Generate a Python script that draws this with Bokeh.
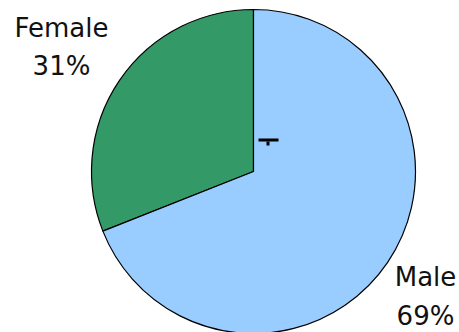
import math
from bokeh.plotting import figure
from bokeh.models import ColumnDataSource, Range1d
from bokeh.core.properties import value
from bokeh.embed import file_html
from bokeh.resources import INLINE

# Gender split
categories = ["Female", "Male"]
shares = [31, 69]
colors = ["#339966", "#99CCFF"]

W, H = 459, 332
cx, cy, r = 253, H - 171, 162

# Wedges start at 12 o'clock and run anticlockwise
total = sum(shares)
starts, ends = [], []
acc = 0.0
for s in shares:
    a0 = math.pi / 2 + 2 * math.pi * acc / total
    acc += s
    a1 = math.pi / 2 + 2 * math.pi * acc / total
    starts.append(a0)
    ends.append(a1)

src = ColumnDataSource(dict(cat=categories, share=shares, color=colors,
                            start=starts, end=ends))

p = figure(width=W, height=H, output_backend="svg", toolbar_location=None,
           x_range=Range1d(0, W), y_range=Range1d(0, H),
           min_border=0)
p.axis.visible = False
p.grid.visible = False
p.outline_line_color = None
p.background_fill_color = "white"
p.border_fill_color = "white"

p.wedge(x=cx, y=cy, radius=r, start_angle="start", end_angle="end",
        fill_color="color", line_color="black", line_width=1.2, source=src)

# Small tick mark near the centre
p.quad(left=[cx + 5], right=[cx + 25], bottom=[H - 141], top=[H - 138],
       fill_color="black", line_color=None)
p.quad(left=[cx + 13], right=[cx + 16], bottom=[H - 145], top=[H - 141],
       fill_color="black", line_color=None)

# Category name above its percentage
lab = ColumnDataSource(dict(
    x=[61, 425],
    y_name=[H - 27, H - 276],
    y_pct=[H - 65, H - 315],
    name=categories,
    pct=[f"{s}%" for s in shares],
))
style = dict(source=lab, text_align="center", text_baseline="alphabetic",
             text_font=value("DejaVu Sans"), text_font_size="26px",
             text_color="#111111")
p.text(x="x", y="y_name", text="name", **style)
p.text(x="x", y="y_pct", text="pct", **style)

open("out.html", "w").write(file_html(p, INLINE))
